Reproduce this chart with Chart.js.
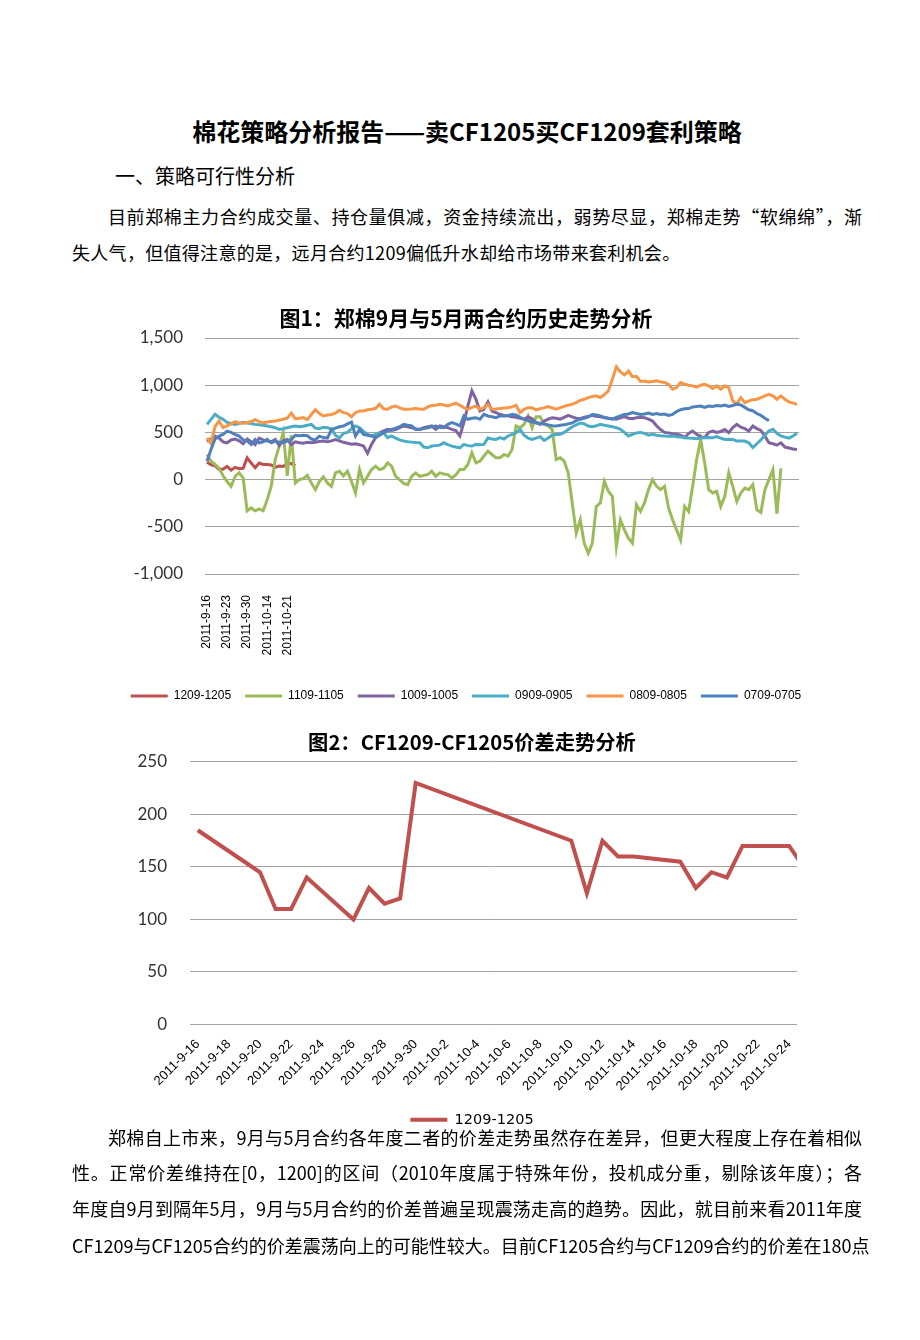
<!DOCTYPE html>
<html>
<head>
<meta charset="utf-8">
<script src="https://cdn.jsdelivr.net/npm/chart.js@4.4.0/dist/chart.umd.min.js"></script>
<style>
  body { margin: 0; width: 920px; height: 1340px; background: #fff; position: relative; overflow: hidden;
         font-family: "Noto Sans CJK SC", sans-serif; color: #000; }
  .ln { position: absolute; font-size: 18px; line-height: 26px; height: 26px; white-space: nowrap; }
  .just { text-align: justify; text-align-last: justify; }
  .box { position: absolute; overflow: hidden; }
</style>
</head>
<body>

<div class="ln" style="left:0; width:934px; top:115px; font-size:24px; line-height:32px; height:32px; font-weight:bold; text-align:center;">棉花策略分析报告——卖CF1205买CF1209套利策略</div>
<div class="ln" style="left:115px; top:162px; font-size:20px; line-height:28px; height:28px;">一、策略可行性分析</div>

<div class="ln just" style="left:108px; width:754px; top:203px;">目前郑棉主力合约成交量、持仓量俱减，资金持续流出，弱势尽显，郑棉走势“软绵绵”，渐</div>
<div class="ln" style="left:72px; top:239px; letter-spacing:0.3px;">失人气，但值得注意的是，远月合约1209偏低升水却给市场带来套利机会。</div>

<div class="box" style="left:100px; top:295px; width:732px; height:417px;"><canvas id="chart1" width="732" height="417"></canvas></div>
<div class="box" style="left:120px; top:720px; width:704px; height:407px;"><canvas id="chart2" width="704" height="417"></canvas></div>

<div class="ln just" style="left:108px; width:754px; top:1124px;">郑棉自上市来，9月与5月合约各年度二者的价差走势虽然存在差异，但更大程度上存在着相似</div>
<div class="ln just" style="left:72px; width:790px; top:1159px;">性。正常价差维持在[0，1200]的区间（2010年度属于特殊年份，投机成分重，剔除该年度）；各</div>
<div class="ln just" style="left:72px; width:790px; top:1195px;">年度自9月到隔年5月，9月与5月合约的价差普遍呈现震荡走高的趋势。因此，就目前来看2011年度</div>
<div class="ln just" style="left:72px; width:790px; top:1232px;">CF1209与CF1205合约的价差震荡向上的可能性较大。目前CF1205合约与CF1209合约的价差在180点</div>

<script>
// trading days of the 1209-1205 spread (also the category labels of chart 1)
const tradeDates = ['2011-9-16','2011-9-19','2011-9-20','2011-9-21','2011-9-22','2011-9-23',
  '2011-9-26','2011-9-27','2011-9-28','2011-9-29','2011-9-30','2011-10-10','2011-10-11',
  '2011-10-12','2011-10-13','2011-10-14','2011-10-17','2011-10-18','2011-10-19','2011-10-20',
  '2011-10-21','2011-10-24','2011-10-25'];
const spread1209 = [185,155,145,110,110,140,100,130,115,120,230,175,125,175,160,160,155,130,145,140,170,170,148];

// calendar days of chart 2 (date axis), the last one lies past the axis end
const calendarDays = ['2011-9-16','2011-9-17','2011-9-18','2011-9-19','2011-9-20','2011-9-21','2011-9-22',
  '2011-9-23','2011-9-24','2011-9-25','2011-9-26','2011-9-27','2011-9-28','2011-9-29','2011-9-30',
  '2011-10-1','2011-10-2','2011-10-3','2011-10-4','2011-10-5','2011-10-6','2011-10-7','2011-10-8',
  '2011-10-9','2011-10-10','2011-10-11','2011-10-12','2011-10-13','2011-10-14','2011-10-15','2011-10-16',
  '2011-10-17','2011-10-18','2011-10-19','2011-10-20','2011-10-21','2011-10-22','2011-10-23','2011-10-24',
  '2011-10-25'];
const axisEnd2 = '2011-10-24';

// spreads of earlier years
const s1109 = [266,195,160,120,40,-20,-71,35,71,18,
  -330,-300,-330,-310,-330,-213,-71,213,355,500,
  40,470,-35,0,10,45,-35,-106,-20,30,
  -35,-71,71,89,40,90,-20,-142,106,-35,
  35,106,142,106,120,177,142,35,0,-40,
  -53,35,71,35,45,53,89,35,71,60,
  53,18,50,106,106,160,284,177,195,250,
  302,266,231,231,266,248,319,568,550,585,
  674,550,667,667,585,568,532,213,231,195,
  71,-248,-567,-426,-674,-780,-674,-284,-248,-18,
  -124,-177,-709,-426,-532,-621,-674,-266,-337,-248,
  -106,0,-71,-106,-71,-300,-426,-532,-639,-284,
  -337,-71,213,426,177,-106,-142,-124,-284,-177,
  71,-71,-231,-142,-89,-106,-53,-320,-348,-106,
  0,106,-360,120];
const s1009 = [400,430,460,440,400,390,420,430,410,380,
  430,400,370,440,420,408,400,425,360,410,
  425,370,400,390,385,395,390,395,405,408,
  400,410,425,410,395,385,375,380,370,355,
  280,373,444,497,515,532,520,530,550,568,
  560,550,540,532,550,560,568,532,568,560,
  550,532,520,462,603,780,940,852,727,745,
  824,727,710,692,680,675,665,660,650,640,
  665,645,600,585,620,640,655,650,640,660,
  680,665,650,645,660,670,680,672,665,656,
  650,645,640,655,667,650,646,655,660,656,
  640,620,570,530,500,495,485,480,470,445,
  490,515,480,455,445,500,515,500,510,530,
  497,550,585,555,540,515,568,540,520,462,
  390,380,365,390,345,335,325,320];
const s0909 = [585,638,691,660,638,606,595,585,595,606,
  600,595,585,580,575,568,560,550,532,540,
  550,560,568,560,565,575,585,545,540,555,
  550,535,470,440,490,500,540,568,550,510,
  480,462,479,490,497,444,462,440,420,408,
  400,397,392,390,345,337,355,360,365,390,
  370,355,345,337,373,360,355,373,370,373,
  440,430,426,444,430,462,480,497,532,470,
  440,426,440,455,415,440,470,479,480,500,
  530,560,580,600,590,568,560,570,585,575,
  568,560,550,532,500,462,480,495,500,490,
  470,480,470,465,462,460,462,455,450,444,
  440,438,433,440,444,445,444,455,440,426,
  428,426,408,410,408,390,340,380,420,469,
  515,532,490,462,450,440,462,490];
const s0809 = [443,383,560,620,550,570,590,615,600,596,
  605,615,635,615,600,610,615,620,630,640,
  650,705,645,650,656,635,690,740,700,674,
  685,690,705,735,709,700,665,709,727,727,
  740,745,755,798,750,745,770,780,760,745,
  745,748,752,748,745,770,785,787,798,790,
  780,795,809,787,762,745,765,780,745,762,
  798,745,748,752,758,762,770,787,709,745,
  762,760,738,752,760,773,760,745,762,775,
  787,800,816,840,851,869,880,887,869,900,
  940,1064,1195,1140,1110,1150,1090,1095,1040,1045,
  1035,1040,1046,1035,1028,1010,957,975,1028,1010,
  1000,993,980,1000,1010,993,965,993,957,993,
  975,834,798,869,816,834,845,851,869,887,
  904,887,851,887,851,823,810,798];
const s0709 = [195,319,430,460,479,514,500,480,461,420,
  410,372,426,390,400,426,390,408,395,390,
  410,426,470,465,470,465,430,420,460,445,
  440,530,545,560,568,590,610,462,532,479,
  470,462,444,470,497,515,532,545,560,585,
  575,568,532,532,540,550,560,568,552,550,
  585,603,590,568,674,639,650,656,639,692,
  674,665,656,674,675,680,690,685,660,640,
  625,610,605,595,590,580,570,568,575,580,
  590,600,625,640,650,665,690,685,675,660,
  650,640,660,675,690,695,710,700,690,695,
  705,690,700,690,695,680,690,720,740,750,
  752,770,775,780,765,780,775,785,780,790,
  775,785,800,790,765,740,730,700,680,650,625];

const seriesNames = ['1209-1205','1109-1105','1009-1005','0909-0905','0809-0805','0709-0705'];
const seriesColors = ['#C0504D','#9BBB59','#8064A2','#4BACC6','#F79646','#4F81BD'];
const seriesData = [spread1209, s1109, s1009, s0909, s0809, s0709];

const yTicks1 = [-1000, -500, 0, 500, 1000, 1500];
const yTicks2 = [0, 50, 100, 150, 200, 250];

Chart.defaults.font.family = '"Liberation Sans", sans-serif';
Chart.defaults.color = '#000';

// category labels for chart 1: the spread's dates, blank for the rest
const n1 = Math.max(...seriesData.map(a => a.length));
const labels1 = tradeDates.concat(Array(n1 - tradeDates.length).fill(''));

const tickFont = { family: 'Lato', size: 17 };

// empty axis on the right, only there to widen the title/legend box
const spacerAxis = (w) => ({
  type: 'linear', position: 'right', display: true,
  grid: { display: false }, border: { display: false }, ticks: { display: false },
  afterFit: s => { s.width = w; }
});

new Chart(document.getElementById('chart1'), {
  type: 'line',
  data: {
    labels: labels1,
    datasets: seriesData.map((d, i) => ({
      label: seriesNames[i],
      data: d,
      borderColor: seriesColors[i],
      backgroundColor: seriesColors[i],
      borderWidth: 3,
      pointRadius: 0,
      tension: 0,
      order: seriesData.length - i
    }))
  },
  options: {
    responsive: false,
    animation: false,
    layout: { padding: 0 },
    plugins: {
      title: { display: true, text: '图1：郑棉9月与5月两合约历史走势分析',
               font: { family: '"Noto Sans CJK SC"', size: 21, weight: 'bold' }, color: '#000',
               padding: { top: 10.4, bottom: 7.4 } },
      legend: {
        position: 'bottom',
        labels: {
          usePointStyle: true, pointStyle: 'line', pointStyleWidth: 37,
          font: { size: 12 }, color: '#000', padding: 14,
          sort: (a, b) => a.datasetIndex - b.datasetIndex
        }
      },
      tooltip: { enabled: false }
    },
    scales: {
      x: {
        offset: true,
        grid: { display: false },
        border: { display: false },
        ticks: {
          autoSkip: false, minRotation: 90, maxRotation: 90, padding: 13,
          font: { size: 12 }, color: '#000',
          callback: (v, i) => (i % 5 === 0 ? labels1[i] : '')
        },
        afterFit: s => { s.height = 102; }
      },
      y: {
        min: yTicks1[0], max: yTicks1[yTicks1.length - 1],
        afterBuildTicks: s => { s.ticks = yTicks1.map(v => ({ value: v })); },
        ticks: { padding: 22, font: tickFont, color: '#333',
                 callback: v => v.toLocaleString('en-US') },
        grid: { color: '#a3a3a3', drawTicks: false },
        border: { display: false },
        afterFit: s => { s.width = 105; }
      },
      yR: spacerAxis(33)
    }
  }
});

// chart 2: date axis, one unit per calendar day
const dayIndex = d => calendarDays.indexOf(d);
const spreadPoints = tradeDates.map((d, k) => ({ x: dayIndex(d), y: spread1209[k] }));
const lastDay2 = dayIndex(axisEnd2);

new Chart(document.getElementById('chart2'), {
  type: 'line',
  data: {
    datasets: [{
      label: seriesNames[0],
      data: spreadPoints,
      borderColor: seriesColors[0],
      backgroundColor: seriesColors[0],
      borderWidth: 4,
      pointRadius: 0,
      tension: 0
    }]
  },
  options: {
    responsive: false,
    animation: false,
    layout: { padding: 0 },
    plugins: {
      title: { display: true, text: '图2：CF1209-CF1205价差走势分析',
               font: { family: '"Noto Sans CJK SC"', size: 20.3, weight: 'bold' }, color: '#000',
               padding: { top: 10, bottom: 7.6 } },
      legend: {
        position: 'bottom',
        labels: { usePointStyle: true, pointStyle: 'line', pointStyleWidth: 37,
                  font: { family: '"DejaVu Sans"', size: 14.5 }, color: '#000', padding: 10 }
      },
      tooltip: { enabled: false }
    },
    scales: {
      x: {
        type: 'linear',
        min: -0.5,
        max: lastDay2 + 0.5,
        afterBuildTicks: s => {
          s.ticks = calendarDays.map((d, i) => i).filter(i => i % 2 === 0 && i <= lastDay2).map(v => ({ value: v }));
        },
        grid: { display: false },
        border: { display: false },
        ticks: {
          autoSkip: false, minRotation: 45, maxRotation: 45, padding: 4,
          font: { size: 13 }, color: '#000',
          callback: v => calendarDays[v]
        },
        afterFit: s => { s.height = 78; }
      },
      y: {
        min: yTicks2[0], max: yTicks2[yTicks2.length - 1],
        afterBuildTicks: s => { s.ticks = yTicks2.map(v => ({ value: v })); },
        ticks: { padding: 23, font: tickFont, color: '#333' },
        grid: { color: '#a3a3a3', drawTicks: false },
        border: { display: false },
        afterFit: s => { s.width = 70; }
      },
      yR: spacerAxis(27)
    }
  }
});
</script>
</body>
</html>
